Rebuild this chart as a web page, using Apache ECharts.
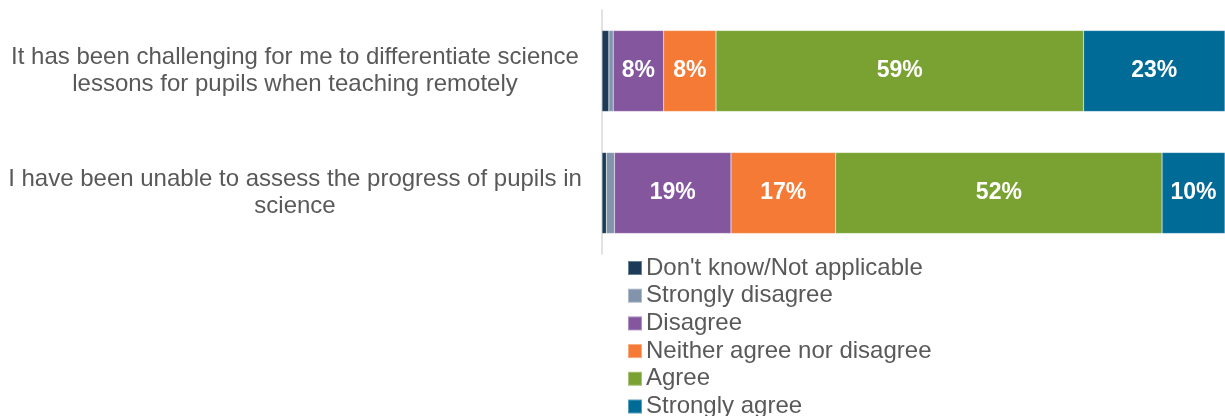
<!DOCTYPE html>
<html><head><meta charset="utf-8">
<script src="https://cdn.jsdelivr.net/npm/echarts@6/dist/echarts.min.js"></script>
<style>html,body{margin:0;padding:0;background:#fff}#c{width:1225px;height:416px}</style>
</head><body><div id="c"></div>
<script>
const categories = [
  "It has been challenging for me to differentiate science\nlessons for pupils when teaching remotely",
  "I have been unable to assess the progress of pupils in\nscience"
];
const seriesNames = ["Don't know/Not applicable","Strongly disagree","Disagree","Neither agree nor disagree","Agree","Strongly agree"];
const dontKnow = [1.1, 0.7];
const stronglyDisagree = [0.7, 1.3];
const disagree = [8.1, 18.7];
const neither = [8.4, 16.8];
const agree = [59.0, 52.4];
const stronglyAgree = [22.7, 10.1];
const colors = ["#1c3b58","#8194ab","#83569e","#f47a35","#7aa232","#006b97"];

const values = [dontKnow, stronglyDisagree, disagree, neither, agree, stronglyAgree];
const chart = echarts.init(document.getElementById('c'));
chart.setOption({
  animation:false,
  textStyle:{fontFamily:"Liberation Sans, Arial, sans-serif"},
  grid:{left:602,right:0,top:10,height:244,containLabel:false},
  xAxis:{type:'value',min:0,max:100,show:false},
  yAxis:{type:'category',data:categories,inverse:true,
    axisLine:{show:true,lineStyle:{color:'#d9d9d9',width:1.5}},
    axisTick:{show:false},
    axisLabel:{align:'center',margin:307,color:'#595959',fontSize:24,lineHeight:27,
      fontFamily:"Liberation Sans, Arial, sans-serif"}},
  legend:{orient:'vertical',left:627,top:256,height:180,padding:0,itemWidth:14,itemHeight:14,itemGap:3.7,
    icon:'rect',
    textStyle:{color:'#595959',fontSize:24,lineHeight:24,padding:[0,0,0,-1],fontFamily:"Liberation Sans, Arial, sans-serif"},
    data:seriesNames},
  series: seriesNames.map((n,i)=>({
    name:n,type:'bar',stack:'all',barWidth:81,
    itemStyle:{color:colors[i],borderColor:'rgba(255,255,255,0.35)',borderWidth:0.5},
    label:{show:true,position:'inside',color:'#fff',fontWeight:'bold',fontSize:23,
      fontFamily:"Liberation Sans, Arial, sans-serif",
      formatter:p=>p.value>=5?Math.round(p.value)+'%':''},
    data:values[i]
  }))
});
</script></body></html>
